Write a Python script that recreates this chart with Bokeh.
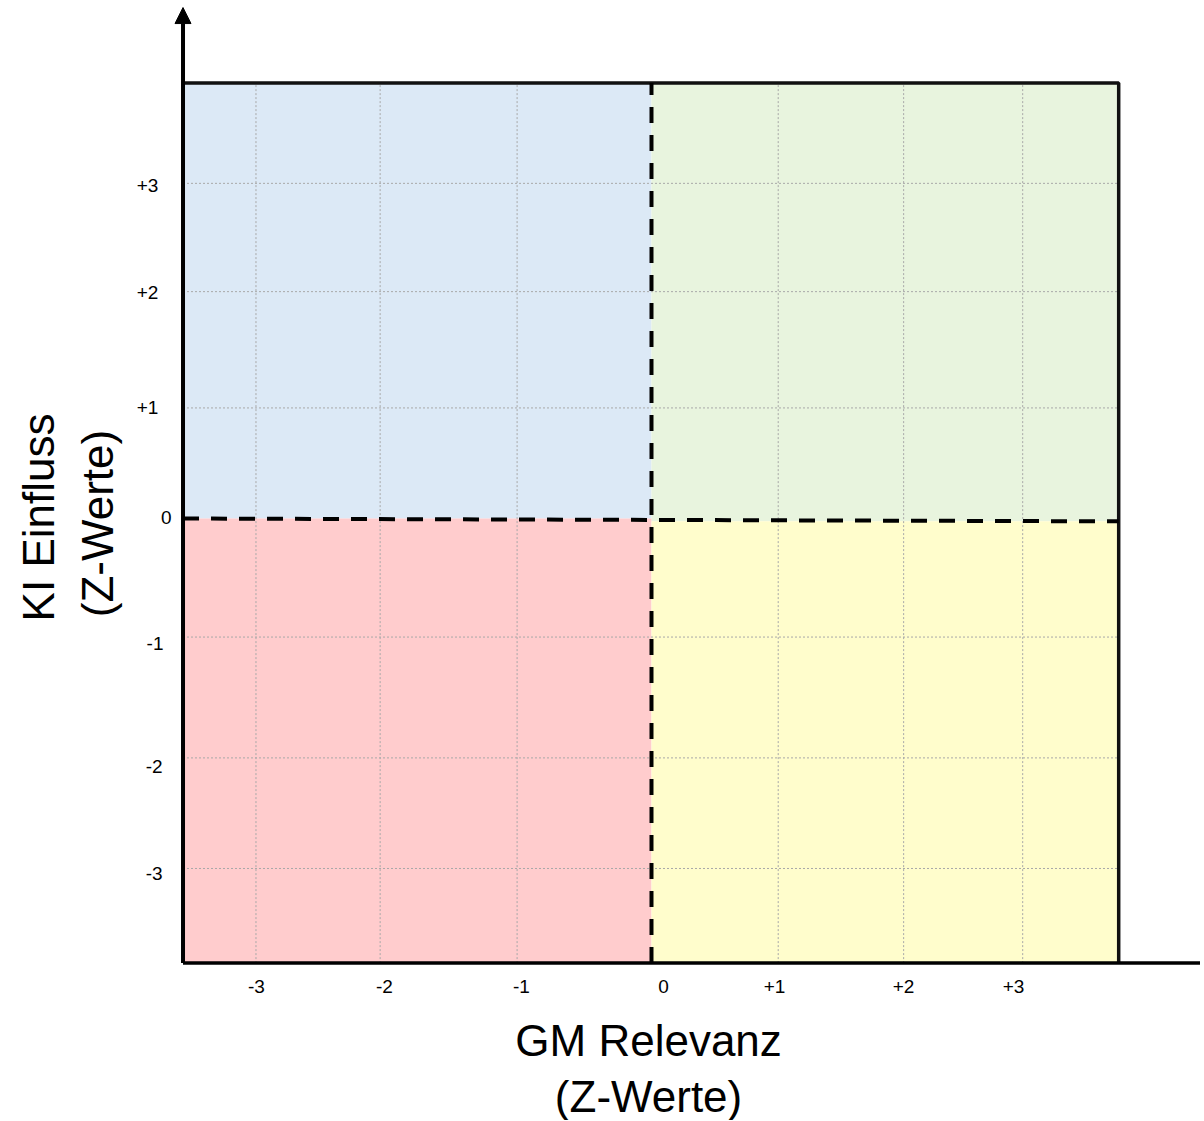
import math
from bokeh.plotting import figure
from bokeh.models import Range1d, Arrow, NormalHead
from bokeh.core.properties import value
from bokeh.embed import file_html
from bokeh.resources import INLINE

# ---- data (z-value units) ----
x_grid = [-3.09, -2.12, -1.05, 0.99, 1.97, 2.90]
y_grid = [2.94, 1.99, 0.97, -1.04, -2.10, -3.07]

box_left, box_right = -3.66, 3.65
box_bottom, box_top = -3.90, 3.82
mid_x = 0.0
mid_y_left, mid_y_right = 0.0, -0.025

quad_names = ["blue", "green", "red", "yellow"]
quad_left = [box_left, mid_x, box_left, mid_x]
quad_right = [mid_x, box_right, mid_x, box_right]
quad_bottom = [mid_y_left, mid_y_right, box_bottom, box_bottom]
quad_top = [box_top, box_top, mid_y_left, mid_y_right]
quad_colors = ["#DCE9F6", "#E8F4DE", "#FFCCCD", "#FFFDCC"]

x_tick_labels = ["-3", "-2", "-1", "0", "+1", "+2", "+3"]
x_tick_pos = [-3.086, -2.086, -1.016, 0.094, 0.961, 1.969, 2.828]
x_tick_y = -4.105

y_tick_labels = ["+3", "+2", "+1", "0", "-1", "-2", "-3"]
y_tick_pos = [2.921, 1.982, 0.974, 0.009, -1.096, -2.175, -3.114]
y_tick_x = [-3.852, -3.852, -3.852, -3.75, -3.8125, -3.82, -3.82]

x_title = ["GM Relevanz", "(Z-Werte)"]
x_title_x = [-0.023, -0.023]
x_title_y = [-4.579, -5.070]

y_title = ["KI Einfluss", "(Z-Werte)"]
y_title_x = [-4.789, -4.328]
y_title_y = [0.009, -0.044]

axis_top = 4.482
axis_right = 4.30

# ---- figure: frame covers the whole canvas ----
p = figure(width=1200, height=1120,
           x_range=Range1d(-5.0859, 4.2891), y_range=Range1d(-5.2807, 4.5439),
           output_backend="svg", toolbar_location=None,
           min_border=0, min_border_left=0, min_border_right=0,
           min_border_top=0, min_border_bottom=0)
p.axis.visible = False
p.grid.visible = False
p.outline_line_color = None
p.background_fill_color = "white"

# quadrants
p.quad(left=quad_left, right=quad_right, bottom=quad_bottom, top=quad_top,
       fill_color=quad_colors, line_color=None)

# dotted grid lines
p.segment(x0=x_grid, y0=[box_bottom] * len(x_grid), x1=x_grid, y1=[box_top] * len(x_grid),
          line_color="#A8A8A8", line_width=1, line_dash="2 2")
p.segment(x0=[box_left] * len(y_grid), y0=y_grid, x1=[box_right] * len(y_grid), y1=y_grid,
          line_color="#A8A8A8", line_width=1, line_dash="2 2")

# box outline
p.line(x=[box_left, box_right, box_right], y=[box_top, box_top, box_bottom],
       line_color="#111111", line_width=3.5)

# centre dashed lines
p.line(x=[mid_x, mid_x], y=[box_bottom, box_top], line_color="black",
       line_width=4, line_dash="16 12")
p.line(x=[box_left, box_right], y=[mid_y_left, mid_y_right], line_color="black",
       line_width=4, line_dash="16 12")

# axes with arrows
p.line(x=[box_left, axis_right], y=[box_bottom, box_bottom], line_color="black", line_width=3.5)
p.add_layout(Arrow(end=NormalHead(size=16, fill_color="black", line_color="black"),
                   x_start=box_left, y_start=box_bottom, x_end=box_left, y_end=axis_top,
                   line_color="black", line_width=4))

# tick labels
p.text(x=x_tick_pos, y=[x_tick_y] * len(x_tick_pos), text=x_tick_labels,
       text_font=value("Liberation Sans"), text_font_size="19px",
       text_align="center", text_baseline="middle", text_color="black")
p.text(x=y_tick_x, y=y_tick_pos, text=y_tick_labels,
       text_font=value("Liberation Sans"), text_font_size="19px",
       text_align="right", text_baseline="middle", text_color="black")

# axis titles
p.text(x=x_title_x, y=x_title_y, text=x_title,
       text_font=value("Liberation Sans"), text_font_size="44px",
       text_align="center", text_baseline="middle", text_color="black")
p.text(x=y_title_x, y=y_title_y, text=y_title, angle=math.pi / 2,
       text_font=value("Liberation Sans"), text_font_size="44px",
       text_align="center", text_baseline="middle", text_color="black")

open("out.html", "w").write(file_html(p, INLINE))
